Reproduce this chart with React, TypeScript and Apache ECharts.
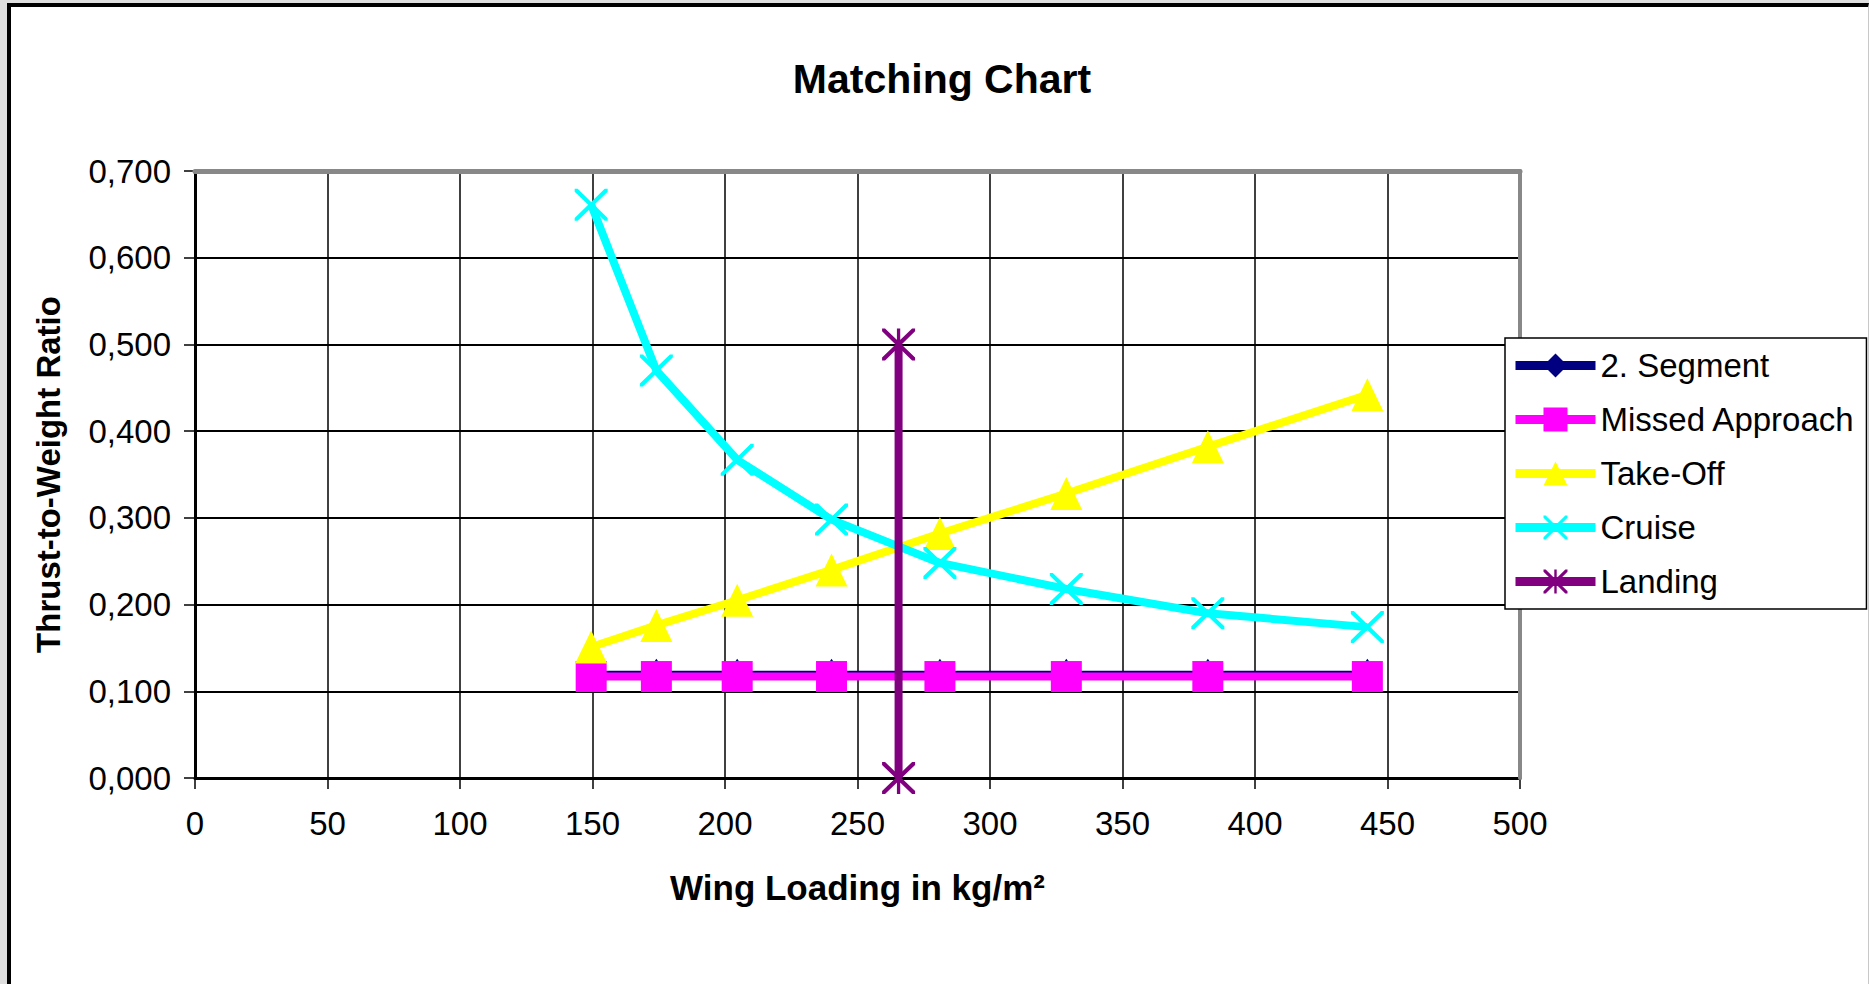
import React, { useEffect, useRef } from "react";
import * as echarts from "echarts";

const wingLoading = [149.5, 174.1, 204.6, 240.2, 281.1, 328.8, 382.2, 442.4];
const segment2 = [0.119, 0.119, 0.119, 0.119, 0.119, 0.119, 0.119, 0.119];
const missedApproach = [0.117, 0.117, 0.117, 0.117, 0.117, 0.117, 0.117, 0.117];
const takeOff = [0.151, 0.176, 0.205, 0.24, 0.282, 0.328, 0.382, 0.442];
const cruise = [0.661, 0.47, 0.367, 0.298, 0.248, 0.218, 0.19, 0.174];
const landingX = [265.5, 265.5];
const landingY = [0.0, 0.5];

const seriesNames = ["2. Segment", "Missed Approach", "Take-Off", "Cruise", "Landing"];
const xTicks = { min: 0, max: 500, interval: 50 };
const yTicks = { min: 0, max: 0.7, interval: 0.1 };

const FONT = '"Liberation Sans", Arial, Helvetica, sans-serif';

const crossPath =
  "path://M0,0 L9,0 L50,41 L91,0 L100,0 L100,9 L59,50 L100,91 L100,100 L91,100 L50,59 L9,100 L0,100 L0,91 L41,50 L0,9 Z";
const starPath =
  "path://M0,0 L9,0 L50,41 L91,0 L100,0 L100,9 L59,50 L100,91 L100,100 L91,100 L50,59 L9,100 L0,100 L0,91 L41,50 L0,9 Z M45,0 L55,0 L55,100 L45,100 Z";

function zip(xs: number[], ys: number[]) {
  return xs.map((x, i) => [x, ys[i]]);
}

export default function App() {
  const ref = useRef<HTMLDivElement>(null);

  useEffect(() => {
    if (!ref.current) return;
    const chart = echarts.init(ref.current, null, { renderer: "svg" });
    const lw = 8;
    const option: any = {
      animation: false,
      backgroundColor: "transparent",
      title: {
        text: "Matching Chart",
        left: 937,
        top: 53,
        textAlign: "center",
        textStyle: { fontFamily: FONT, fontSize: 41, fontWeight: "bold", color: "#000" },
      },
      legend: {
        orient: "vertical",
        left: 1505,
        top: 338,
        backgroundColor: "#fff",
        borderColor: "#000",
        borderWidth: 1.5,
        borderRadius: 0,
        padding: [11, 11, 11, 6],
        itemWidth: 80,
        itemHeight: 30,
        itemGap: 21,
        data: seriesNames,
        lineStyle: { width: 9 },
        textStyle: { fontFamily: FONT, fontSize: 33, color: "#000" },
        z: 10,
      },
      grid: { left: 195, top: 171, width: 1325, height: 607, containLabel: false },
      xAxis: [
        {
          type: "value",
          min: xTicks.min,
          max: xTicks.max,
          interval: xTicks.interval,
          name: "Wing Loading in kg/m²",
          nameLocation: "middle",
          nameGap: 92,
          nameTextStyle: { fontFamily: FONT, fontSize: 35, fontWeight: "bold", color: "#000" },
          axisLine: { show: true, onZero: false, lineStyle: { color: "#000", width: 3 } },
          axisTick: { show: true, inside: false, length: 11, lineStyle: { color: "#000", width: 1.5 } },
          axisLabel: { fontFamily: FONT, fontSize: 33, color: "#000", margin: 29 },
          splitLine: { show: true, lineStyle: { color: "#000", width: 1.5 } },
        },
        {
          type: "value",
          position: "top",
          min: xTicks.min,
          max: xTicks.max,
          z: 3,
          axisLine: { show: true, onZero: false, lineStyle: { color: "#888", width: 5 } },
          axisTick: { show: false },
          axisLabel: { show: false },
          splitLine: { show: false },
        },
      ],
      yAxis: [
        {
          type: "value",
          min: yTicks.min,
          max: yTicks.max,
          interval: yTicks.interval,
          name: "Thrust-to-Weight Ratio",
          nameLocation: "middle",
          nameGap: 130,
          nameRotate: 90,
          nameTextStyle: { fontFamily: FONT, fontSize: 33, fontWeight: "bold", color: "#000" },
          axisLine: { show: true, onZero: false, lineStyle: { color: "#000", width: 3 } },
          axisTick: { show: true, inside: false, length: 11, lineStyle: { color: "#000", width: 1.5 } },
          axisLabel: {
            fontFamily: FONT,
            fontSize: 33,
            color: "#000",
            margin: 24,
            formatter: (v: number) => v.toFixed(3).replace(".", ","),
          },
          splitLine: { show: true, lineStyle: { color: "#000", width: 2 } },
        },
        {
          type: "value",
          position: "right",
          min: yTicks.min,
          max: yTicks.max,
          z: 3,
          axisLine: { show: true, onZero: false, lineStyle: { color: "#888", width: 4 } },
          axisTick: { show: false },
          axisLabel: { show: false },
          splitLine: { show: false },
        },
      ],
      series: [
        {
          name: seriesNames[0],
          type: "line",
          data: zip(wingLoading, segment2),
          symbol: "diamond",
          symbolSize: [22, 32],
          lineStyle: { color: "#000080", width: lw },
          itemStyle: { color: "#000080" },
          z: 4,
        },
        {
          name: seriesNames[1],
          type: "line",
          data: zip(wingLoading, missedApproach),
          symbol: "rect",
          symbolSize: 31,
          lineStyle: { color: "#ff00ff", width: lw },
          itemStyle: { color: "#ff00ff" },
          z: 5,
        },
        {
          name: seriesNames[2],
          type: "line",
          data: zip(wingLoading, takeOff),
          symbol: "triangle",
          symbolSize: [32, 33],
          lineStyle: { color: "#ffff00", width: lw },
          itemStyle: { color: "#ffff00" },
          z: 6,
        },
        {
          name: seriesNames[3],
          type: "line",
          data: zip(wingLoading, cruise),
          symbol: crossPath,
          symbolSize: [33, 32],
          lineStyle: { color: "#00ffff", width: lw },
          itemStyle: { color: "#00ffff" },
          z: 7,
        },
        {
          name: seriesNames[4],
          type: "line",
          data: zip(landingX, landingY),
          symbol: starPath,
          symbolSize: [33, 32],
          lineStyle: { color: "#800080", width: lw },
          itemStyle: { color: "#800080" },
          z: 8,
        },
      ],
    };
    chart.setOption(option);
    return () => chart.dispose();
  }, []);

  return (
    <div
      style={{
        position: "fixed",
        left: 0,
        top: 0,
        width: 1869,
        height: 984,
        background: "#dedede",
        overflow: "hidden",
      }}
    >
      <div
        style={{
          position: "absolute",
          left: 7,
          top: 3,
          width: 1869 - 7 - 4 - 1,
          height: 1100,
          background: "#fff",
          borderLeft: "4px solid #000",
          borderTop: "4px solid #000",
          borderRight: "1px solid #c8c8c8",
        }}
      />
      <div ref={ref} style={{ position: "absolute", left: 0, top: 0, width: 1869, height: 984 }} />
    </div>
  );
}
